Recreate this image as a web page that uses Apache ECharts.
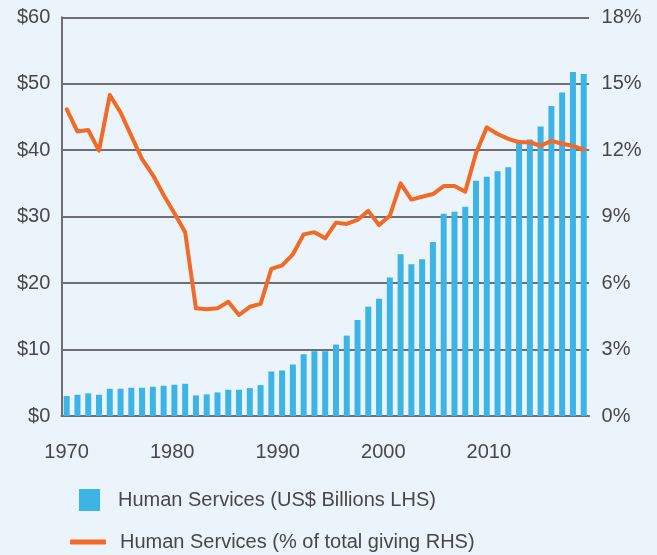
<!DOCTYPE html>
<html>
<head>
<meta charset="utf-8">
<script src="https://cdn.jsdelivr.net/npm/echarts@6/dist/echarts.min.js"></script>
<style>
  html, body { margin: 0; padding: 0; background: #ecf4fb; }
  #chart { width: 657px; height: 555px; }
</style>
</head>
<body>
<div id="chart"></div>
<script>
// Human services giving, 1970-2018
const years = [
  '1970','1971','1972','1973','1974','1975','1976','1977','1978','1979',
  '1980','1981','1982','1983','1984','1985','1986','1987','1988','1989',
  '1990','1991','1992','1993','1994','1995','1996','1997','1998','1999',
  '2000','2001','2002','2003','2004','2005','2006','2007','2008','2009',
  '2010','2011','2012','2013','2014','2015','2016','2017','2018'
];

// US$ billions (left axis)
const amountBillions = [
  3.0, 3.2, 3.4, 3.2, 4.1, 4.1, 4.25, 4.25, 4.4, 4.55,
  4.7, 4.85, 3.1, 3.25, 3.55, 3.95, 3.95, 4.2, 4.65, 6.7,
  6.85, 7.75, 9.3, 9.75, 9.75, 10.75, 12.1, 14.45, 16.45, 17.65,
  20.85, 24.35, 22.85, 23.6, 26.2, 30.45, 30.75, 31.5, 35.4, 36.0,
  36.85, 37.45, 41.5, 41.6, 43.55, 46.65, 48.7, 51.75, 51.45
];

// Share of total giving, % (right axis)
const sharePct = [
  13.85, 12.84, 12.91, 11.98, 14.49, 13.71, 12.65, 11.6, 10.88, 9.98,
  9.15, 8.3, 4.86, 4.82, 4.86, 5.16, 4.56, 4.93, 5.06, 6.64,
  6.8, 7.3, 8.2, 8.3, 8.02, 8.73, 8.67, 8.85, 9.26, 8.62,
  9.04, 10.5, 9.77, 9.9, 10.02, 10.38, 10.38, 10.13, 11.86, 13.03,
  12.73, 12.51, 12.36, 12.36, 12.2, 12.42, 12.29, 12.2, 12.03
];

// Year scale used for the bottom tick labels (labelled every decade)
const tickYears = [
  '1970','1971','1972','1973','1974','1975','1976','1977','1978','1979',
  '1980','1981','1982','1983','1984','1985','1986','1987','1988','1989',
  '1990','1991','1992','1993','1994','1995','1996','1997','1998','1999',
  '2000','2001','2002','2003','2004','2005','2006','2007','2008','2009',
  '2010','2011','2012','2013','2014','2015','2016','2017','2018','2019'
];

const barName = 'Human Services (US$ Billions LHS)';
const lineName = 'Human Services (% of total giving RHS)';

const FONT = 'Liberation Sans';
const TEXT = '#474749';
const GRID_LINE = '#6e6f72';

const chart = echarts.init(document.getElementById('chart'), null, { renderer: 'canvas' });

chart.setOption({
  backgroundColor: '#ecf4fb',
  animation: false,
  textStyle: { fontFamily: FONT },
  grid: { left: 61.3, right: 67.9, top: 17.3, bottom: 139, containLabel: false },
  legend: [
    {
      data: [{ name: barName, icon: 'rect' }],
      left: 79, top: 489,
      padding: 0,
      itemWidth: 21, itemHeight: 22,
      textStyle: { fontFamily: FONT, fontSize: 20, color: TEXT, padding: [0, 0, 0, 13] },
      selectedMode: false
    },
    {
      data: [{ name: lineName, icon: 'roundRect' }],
      left: 70, top: 532,
      padding: 0,
      itemWidth: 36, itemHeight: 5,
      textStyle: { fontFamily: FONT, fontSize: 20, color: TEXT, padding: [0, 0, 0, 9] },
      selectedMode: false
    }
  ],
  xAxis: [
    {
      type: 'category',
      data: years,
      position: 'bottom',
      boundaryGap: true,
      axisLine: { show: true, lineStyle: { color: GRID_LINE, width: 2 } },
      axisTick: { show: false },
      axisLabel: { show: false },
      splitLine: { show: false }
    },
    {
      type: 'category',
      data: tickYears,
      position: 'bottom',
      boundaryGap: true,
      axisLine: { show: false },
      axisTick: { show: false },
      axisLabel: {
        interval: 9,
        margin: 26,
        fontFamily: FONT, fontSize: 20, color: TEXT
      },
      splitLine: { show: false }
    }
  ],
  yAxis: [
    {
      type: 'value',
      min: 0, max: 60, interval: 10,
      position: 'left',
      axisLine: { show: true, lineStyle: { color: GRID_LINE, width: 2 } },
      axisTick: { show: false },
      axisLabel: {
        margin: 11,
        fontFamily: FONT, fontSize: 20, color: TEXT,
        formatter: v => '$' + v
      },
      splitLine: { show: true, lineStyle: { color: GRID_LINE, width: 2 } }
    },
    {
      type: 'value',
      min: 0, max: 18, interval: 3,
      position: 'right',
      axisLine: { show: false },
      axisTick: { show: false },
      axisLabel: {
        margin: 12.5,
        fontFamily: FONT, fontSize: 20, color: TEXT,
        formatter: v => v + '%'
      },
      splitLine: { show: false }
    }
  ],
  series: [
    {
      name: barName,
      type: 'bar',
      xAxisIndex: 0,
      yAxisIndex: 0,
      data: amountBillions,
      barWidth: 6,
      itemStyle: { color: '#3cb4e5' },
      z: 2
    },
    {
      name: lineName,
      type: 'line',
      xAxisIndex: 0,
      yAxisIndex: 1,
      data: sharePct,
      showSymbol: false,
      symbol: 'none',
      lineStyle: { color: '#f26a25', width: 4, join: 'round', cap: 'round' },
      itemStyle: { color: '#f26a25' },
      z: 3
    }
  ]
});
</script>
</body>
</html>
